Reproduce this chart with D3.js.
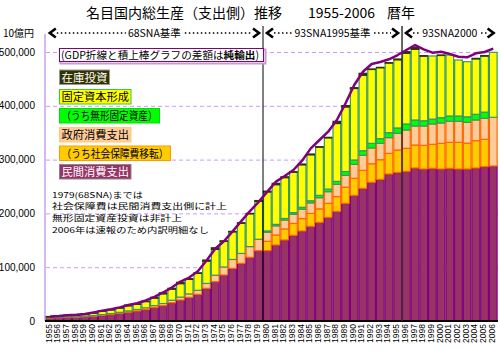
<!DOCTYPE html>
<html><head><meta charset="utf-8">
<script src="https://cdn.jsdelivr.net/npm/d3@7"></script>
<style>body{margin:0;background:#fff}svg{display:block}</style>
</head><body><svg id="c" width="500" height="350"></svg>
<script>
// values in 10億円
const years = d3.range(1955, 2007);
const privateCons = [5400,5900,6500,7000,7600,8900,10400,11900,14000,16300,18600,21300,25000,28500,34000,39000,44000,49600,60800,73000,85500,97900,107200,118400,130700,
 130700,141300,150600,159300,167300,176000,183400,192700,203800,218700,233600,246600,257800,263300,273200,276300,278200,284400,282500,283800,282500,283800,282500,282500,284400,286900,288100];
const socialTransfer = [0,0,0,0,0,0,0,0,0,0,0,0,0,0,0,0,0,0,0,0,0,0,0,0,0,
 17500,18500,20500,22000,23000,24000,25000,26000,27500,30000,31600,33500,34500,36500,38500,41500,42700,42700,44000,44600,47700,48300,49600,48000,50800,50800,0];
const govCons = [850,880,930,1000,1100,1300,1500,1800,2100,2400,2800,3200,3500,4000,4600,5400,6300,7400,9000,12100,14900,16500,18400,19900,21200,
 16700,17000,16500,17000,17500,19500,20800,21700,22700,22100,26000,27900,29300,30400,29100,31000,34100,35300,35900,37800,37800,39100,39100,38800,38400,39000,90500];
const intangible = [0,0,0,0,0,0,0,0,0,0,0,0,0,0,0,0,0,0,0,0,0,0,0,0,0,
 2500,2800,3000,3200,3600,4000,4300,4800,5500,7000,8100,8500,8600,8700,9200,10000,11200,11200,9800,9000,9900,9800,9800,10200,10600,11500,0];
const fixedCapital = [1650,2200,2800,3000,3500,4700,6200,7100,7900,9500,9900,11600,14000,18000,20500,25000,27000,31500,41500,48000,47800,51200,56000,61000,70500,
 72400,73800,75900,75000,78900,85400,89500,95200,107600,120000,132900,140200,137700,132100,129700,126700,131400,131400,120000,117400,116000,113400,104100,102500,103000,104500,120800];
const inventory = [450,600,800,300,600,600,1200,600,1000,1600,600,900,1600,1900,1700,2500,1400,1000,2000,3000,800,1000,1000,800,1500,
 1500,2500,1500,1000,1500,1500,1000,1000,4000,2500,1500,3700,500,500,500,1500,3000,3700,1000,0,500,0,0,0,1000,500,0];
const gdp = [8400,9400,10900,11500,13000,16000,19300,21900,25300,29600,32900,38200,44700,53000,62100,73300,80700,92400,112500,134200,148300,166600,185600,204400,221500,
 240400,259000,269500,280700,298000,320900,336400,351900,373600,404600,438700,463400,477700,481400,486400,494400,503700,513000,505000,498800,500600,496300,491300,490100,497500,500000,506200];
const yTicks = [0,100000,200000,300000,400000,500000];
const eraLabels = ["68SNA基準","93SNA1995基準","93SNA2000"];
const eraBounds = [1955,1980,1996,2007];

const JP = '"Noto Sans CJK JP","Noto Sans",sans-serif';
const svg = d3.select('#c');
const x = d3.scaleBand().domain(years).range([45.8, 497.6]).padding(0);
const y = d3.scaleLinear().domain([0, 500000]).range([321, 52]);
const xEdge = yr => yr <= 2006 ? x(yr) : x(2006) + x.bandwidth();

// title
const tg = svg.append('g').attr('font-family', JP).attr('font-size', 14).attr('fill', '#000');
tg.append('text').attr('x', 86).attr('y', 17.5).text('名目国内総生産（支出側）推移');
tg.append('text').attr('x', 308).attr('y', 17.5).text('1955-2006');
tg.append('text').attr('x', 387).attr('y', 17.5).text('暦年');

svg.append('text').attr('x', 3).attr('y', 37).attr('font-family', JP).attr('font-size', 10).text('10億円');

// grid
svg.append('g').selectAll('line').data(yTicks.filter(d => d > 0)).join('line')
  .attr('x1', 46).attr('x2', 498).attr('y1', d => y(d) + 0.5).attr('y2', d => y(d) + 0.5)
  .attr('stroke', '#CC99FF').attr('stroke-dasharray', '4,3').attr('stroke-width', 1);

// y axis
svg.append('line').attr('x1', 45).attr('x2', 45).attr('y1', 34).attr('y2', 321)
  .attr('stroke', '#C9A0EE').attr('stroke-width', 1.5);
svg.append('g').selectAll('text').data(yTicks).join('text')
  .attr('x', 35).attr('y', d => y(d) + 3.5).attr('text-anchor', 'end')
  .attr('font-family', '"Liberation Sans",Arial,sans-serif').attr('font-size', 10)
  .text(d => d3.format(',')(d));

// stacked bars
const series = [
  {vals: privateCons, fill: '#993366', stroke: '#800080'},
  {vals: socialTransfer, fill: '#FFCC00', stroke: '#FF6600'},
  {vals: govCons, fill: '#FFCC99', stroke: '#FF6600'},
  {vals: intangible, fill: '#00FF00', stroke: '#339966'},
  {vals: fixedCapital, fill: '#FFFF00', stroke: '#339966'},
  {vals: inventory, fill: '#333300', stroke: '#333300'}
];
const bars = svg.append('g');
years.forEach((yr, i) => {
  let base = 0;
  series.forEach(s => {
    const v = s.vals[i];
    if (v > 0) {
      bars.append('rect')
        .attr('x', x(yr) + 0.5).attr('width', x.bandwidth() - 1)
        .attr('y', y(base + v)).attr('height', Math.max(0.5, y(base) - y(base + v)))
        .attr('fill', s.fill).attr('stroke', s.stroke).attr('stroke-width', 1.2);
    }
    base += v;
  });
});

// x axis
svg.append('line').attr('x1', 45).attr('x2', 498).attr('y1', 321).attr('y2', 321)
  .attr('stroke', '#000').attr('stroke-width', 2);
svg.append('g').selectAll('text').data(years).join('text')
  .attr('transform', d => `translate(${x(d) + x.bandwidth() / 2 + 1.5},324) rotate(-90)`)
  .attr('text-anchor', 'end').attr('font-family', '"Liberation Sans",Arial,sans-serif')
  .attr('font-size', 8.5).text(d => d);

// era dividers
[1980, 1996].forEach((yr, k) => {
  svg.append('line').attr('x1', xEdge(yr)).attr('x2', xEdge(yr)).attr('y1', 26).attr('y2', 321)
    .attr('stroke', k === 0 ? '#000' : '#333').attr('stroke-width', k === 0 ? 1 : 1.5);
});

// era annotations
const ea = svg.append('g');
eraLabels.forEach((lab, k) => {
  const a = xEdge(eraBounds[k]) + 1, b = xEdge(eraBounds[k + 1]) - 1;
  ea.append('line').attr('x1', a + 10).attr('x2', b - 10).attr('y1', 33).attr('y2', 33)
    .attr('stroke', '#000').attr('stroke-width', 1.6).attr('stroke-dasharray', '1.5,2.5');
  ea.append('path').attr('d', `M${a + 9},28.5L${a + 3},33L${a + 9},37.5`)
    .attr('fill', 'none').attr('stroke', '#000').attr('stroke-width', 2.6);
  ea.append('path').attr('d', `M${b - 9},28.5L${b - 3},33L${b - 9},37.5`)
    .attr('fill', 'none').attr('stroke', '#000').attr('stroke-width', 2.6);
  ea.append('text').attr('x', (a + b) / 2).attr('y', 37).attr('text-anchor', 'middle')
    .attr('font-family', JP).attr('font-size', 10.5)
    .attr('stroke', '#fff').attr('stroke-width', 5).attr('paint-order', 'stroke').attr('fill', '#000')
    .text(lab);
});

// GDP line
svg.append('path').datum(years.map((yr, i) => [x(yr) + x.bandwidth() / 2, y(gdp[i])]))
  .attr('d', d3.line()).attr('fill', 'none').attr('stroke', '#800080')
  .attr('stroke-width', 2.5).attr('stroke-linejoin', 'round');

// legend boxes
const lg = svg.append('g').attr('font-family', JP).attr('font-size', 11);
const legend = [
  {t: '在庫投資', y: 70, w: 50, fill: '#333300', stroke: '#999999', col: '#fff'},
  {t: '固定資本形成', y: 89.5, w: 71.5, fill: '#FFFF00', stroke: '#33CC33', col: '#000'},
  {t: '（うち無形固定資産）', y: 108.5, w: 100, fill: '#00FF00', stroke: '#00DD00', col: '#000'},
  {t: '政府消費支出', y: 127.5, w: 71.5, fill: '#FFCC99', stroke: '#FFCC66', col: '#000'},
  {t: '（うち社会保障費移転）', y: 146, w: 111, fill: '#FFCC00', stroke: '#FF9900', col: '#000'},
  {t: '民間消費支出', y: 164.5, w: 71.5, fill: '#993366', stroke: '#888888', col: '#fff'}
];
legend.forEach(l => {
  lg.append('rect').attr('x', 59.5).attr('y', l.y).attr('width', l.w).attr('height', 14.5)
    .attr('fill', l.fill).attr('stroke', l.stroke).attr('stroke-width', 1);
  lg.append('text').attr('x', 61.5).attr('y', l.y + 11.5).attr('fill', l.col)
    .attr('textLength', l.w - 4).attr('lengthAdjust', 'spacingAndGlyphs').text(l.t);
});
// net exports note box
lg.append('rect').attr('x', 60.5).attr('y', 49.5).attr('width', 205).attr('height', 14)
  .attr('fill', '#fff').attr('stroke', '#CC99CC').attr('stroke-width', 2);
lg.append('rect').attr('x', 59.5).attr('y', 48.5).attr('width', 204).attr('height', 13)
  .attr('fill', '#fff').attr('stroke', '#800080').attr('stroke-width', 1);
const nt = lg.append('text').attr('x', 61).attr('y', 59).attr('font-size', 10.6);
nt.append('tspan').text('(GDP折線と積上棒グラフの差額は');
nt.append('tspan').attr('font-weight', 'bold').text('純輸出');
nt.append('tspan').text(')');

// note text: four lines, vertically condensed so line boxes do not collide
const notes = ['1979(68SNA)までは', '社会保障費は民間消費支出側に計上', '無形固定資産投資は非計上', '2006年は速報のため内訳明細なし'];
const noteW = [91, 175, 130, 157];
const sy = 0.8, gap = 11.8;
svg.append('g').attr('transform', `translate(52,197.5) scale(1,${sy})`)
  .attr('font-family', JP).attr('font-size', 10)
  .selectAll('text').data(notes).join('text')
  .attr('x', 0).attr('y', (d, i) => i * gap / sy)
  .attr('textLength', (d, i) => noteW[i]).attr('lengthAdjust', 'spacingAndGlyphs')
  .text(d => d);
</script></body></html>
